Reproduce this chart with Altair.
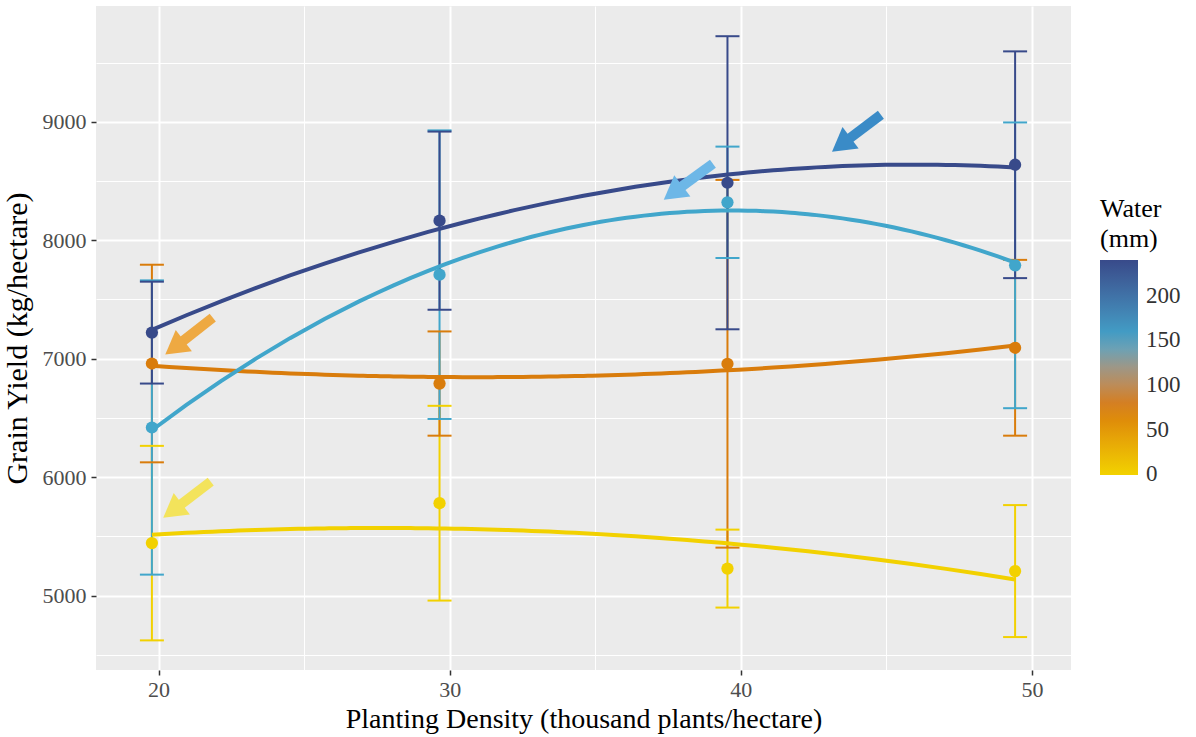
import altair as alt
import pandas as pd

# ---- data ----
density = [19.77, 29.65, 39.54, 49.42]
water_levels = [0, 75, 150, 240]
yield_w0 = [5443, 5780, 5228, 5207]
err_w0 = [821, 822, 329, 557]
yield_w75 = [6959, 6790, 6957, 7092]
err_w75 = [834, 440, 1552, 742]
yield_w150 = [6419, 7709, 8320, 7788]
err_w150 = [1242, 1218, 470, 1206]
yield_w240 = [7220, 8165, 8485, 8637]
err_w240 = [430, 752, 1237, 957]

x_ticks = [20, 30, 40, 50]
x_minor = [25, 35, 45]
y_ticks = [5000, 6000, 7000, 8000, 9000]
y_minor = [4500, 5500, 6500, 7500, 8500, 9500]
legend_ticks = [0, 50, 100, 150, 200]

# annotation arrows (tail -> tip, data coordinates)
arrow_tail_x = [44.81, 39.04, 21.86, 21.79]
arrow_tail_y = [9059, 8646, 7346, 5962]
arrow_tip_x = [43.13, 37.35, 20.24, 20.17]
arrow_tip_y = [8747, 8342, 7034, 5658]
arrow_colors = ["#3A8BC7", "#6DB7E7", "#EEA942", "#F3E35B"]

FONT = "Liberation Serif"

rows = []
for w, ys, es in zip(water_levels,
                     [yield_w0, yield_w75, yield_w150, yield_w240],
                     [err_w0, err_w75, err_w150, err_w240]):
    for d, y, e in zip(density, ys, es):
        rows.append({"density": d, "water": w, "yield": y, "lo": y - e, "hi": y + e})
df = pd.DataFrame(rows)

arr = pd.DataFrame({
    "tx": arrow_tail_x, "ty": arrow_tail_y,
    "hx": arrow_tip_x, "hy": arrow_tip_y, "col": arrow_colors,
})
arr["sx"] = arr["tx"] + 0.70 * (arr["hx"] - arr["tx"])
arr["sy"] = arr["ty"] + 0.70 * (arr["hy"] - arr["ty"])
arr["cx"] = arr["tx"] + 0.81 * (arr["hx"] - arr["tx"])
arr["cy"] = arr["ty"] + 0.81 * (arr["hy"] - arr["ty"])

xscale = alt.Scale(domain=[17.85, 51.34], nice=False, zero=False)
yscale = alt.Scale(domain=[4372, 9977], nice=False, zero=False)
cscale = alt.Scale(domain=[-1, 75, 150, 240],
                   range=["#F2D200", "#D97C0B", "#41A6CB", "#384A8A"],
                   interpolate="lab")

axis_common = dict(labelFont=FONT, labelFontSize=22, labelColor="#4D4D4D",
                   titleFont=FONT, titleFontWeight="normal",
                   titleColor="#000000", tickColor="#333333", tickSize=5,
                   tickWidth=1.5, domain=False, grid=True, gridColor="#FFFFFF",
                   gridWidth=2)

minor_x = alt.Axis(values=x_minor, orient="bottom", labels=False, ticks=False,
                   domain=False, grid=True, gridColor="#FFFFFF", gridWidth=1, title="")
minor_y = alt.Axis(values=y_minor, orient="left", labels=False, ticks=False,
                   domain=False, grid=True, gridColor="#FFFFFF", gridWidth=1, title="")

main_x = alt.Axis(values=x_ticks, format="d", orient="bottom", labelPadding=4,
                  titlePadding=5, titleFontSize=28,
                  title="Planting Density (thousand plants/hectare)",
                  **axis_common)
main_y = alt.Axis(values=y_ticks, format="d", orient="left", labelPadding=5,
                  titlePadding=10, titleFontSize=30,
                  title="Grain Yield (kg/hectare)", **axis_common)

base = alt.Chart(df)

bars = base.mark_rule(strokeWidth=2, opacity=1).encode(
    x=alt.X("density:Q", scale=xscale, axis=minor_x),
    y=alt.Y("lo:Q", scale=yscale, axis=minor_y),
    y2="hi:Q",
    color=alt.Color("water:Q", scale=cscale, legend=None),
)

caps = base.transform_fold(["lo", "hi"], as_=["end", "val"]).mark_tick(
    orient="horizontal", size=24, thickness=2, opacity=1
).encode(
    x=alt.X("density:Q", scale=xscale, axis=None),
    y=alt.Y("val:Q", scale=yscale, axis=None),
    color=alt.Color("water:Q", scale=cscale, legend=None),
)

lines = base.transform_regression(
    "density", "yield", groupby=["water"], method="poly", order=2
).mark_line(strokeWidth=4).encode(
    x=alt.X("density:Q", scale=xscale, axis=None),
    y=alt.Y("yield:Q", scale=yscale, axis=None),
    color=alt.Color("water:Q", scale=cscale, legend=None),
    detail="water:Q",
)

points = base.mark_circle(size=150, opacity=1).encode(
    x=alt.X("density:Q", scale=xscale, axis=main_x),
    y=alt.Y("yield:Q", scale=yscale, axis=main_y),
    color=alt.Color("water:Q", scale=cscale, legend=alt.Legend(
        type="gradient",
        title=["Water", "(mm)"], orient="none", legendX=1004, legendY=190,
        direction="vertical", gradientLength=215, gradientThickness=38,
        gradientStrokeWidth=0, values=legend_ticks,
        titleFont=FONT, titleFontSize=26, titleFontWeight="normal",
        titleColor="#000000", titleLineHeight=30, titlePadding=8,
        labelFont=FONT, labelFontSize=23, labelColor="#333333", labelOffset=8,
        labelBaseline="middle", labelOverlap=False,
    )),
)

abase = alt.Chart(arr)
shafts = abase.mark_rule(strokeWidth=10, strokeCap="butt").encode(
    x=alt.X("tx:Q", scale=xscale, axis=None),
    y=alt.Y("ty:Q", scale=yscale, axis=None),
    x2="sx:Q", y2="sy:Q",
    stroke=alt.Stroke("col:N", scale=None, legend=None),
)
heads = abase.mark_point(shape="triangle-up", size=720, filled=True, opacity=1,
                         angle=233).encode(
    x=alt.X("cx:Q", scale=xscale, axis=None),
    y=alt.Y("cy:Q", scale=yscale, axis=None),
    fill=alt.Fill("col:N", scale=None, legend=None),
)

chart = alt.layer(bars, caps, lines, points, shafts, heads).resolve_axis(
    x="independent", y="independent"
).resolve_legend(color="independent").properties(
    width=975, height=664,
    padding={"left": 96, "top": 6, "right": 125, "bottom": 67},
    autosize=alt.AutoSizeParams(type="none"),
    background="#FFFFFF",
).configure_view(fill="#EBEBEB", stroke=None)

chart.save("out.html", embed_options={"renderer": "svg", "actions": False})
